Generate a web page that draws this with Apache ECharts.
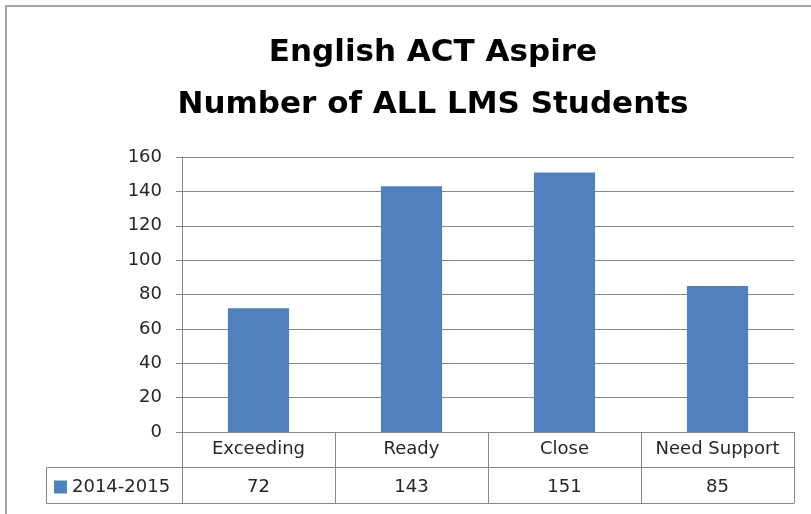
<!DOCTYPE html>
<html>
<head>
<meta charset="utf-8">
<script src="https://cdn.jsdelivr.net/npm/echarts@6/dist/echarts.min.js"></script>
<style>
  html, body { margin: 0; padding: 0; background: #fff; }
  #chart_con { width: 811px; height: 514px; }
</style>
</head>
<body>
<div id="chart_con"></div>
<script>
    // data
    var categories = ['Exceeding', 'Ready', 'Close', 'Need Support'];
    var seriesName = '2014-2015';
    var students = [72, 143, 151, 85];
    var yTicks = { min: 0, max: 160, interval: 20 };

    var lineColor = '#868686';
    var textColor = '#262626';
    var font = 'DejaVu Sans';

    var chart = echarts.init(document.getElementById('chart_con'));
    var option = {
        animation: false,
        title: {
            text: 'English ACT Aspire\nNumber of ALL LMS Students',
            left: 428,
            top: 22,
            textAlign: 'center',
            textStyle: {
                fontFamily: font,
                fontSize: 31,
                fontWeight: 'bold',
                color: '#000',
                lineHeight: 52
            }
        },
        legend: {
            data: [seriesName],
            left: 54,
            top: 478,
            padding: 0,
            itemWidth: 13,
            itemHeight: 13,
            icon: 'rect',
            textStyle: { fontFamily: font, fontSize: 18, color: textColor }
        },
        grid: { left: 182, right: 17, top: 157, bottom: 82 },
        xAxis: [
            {
                type: 'category',
                data: categories,
                axisLine: { lineStyle: { color: lineColor } },
                axisTick: { show: true, interval: 0, length: 71, lineStyle: { color: lineColor } },
                axisLabel: { interval: 0, margin: 8, fontFamily: font, fontSize: 18, color: textColor }
            },
            {
                type: 'category',
                data: categories,
                position: 'bottom',
                offset: 35,
                axisLine: { lineStyle: { color: lineColor } },
                axisTick: { show: false },
                axisLabel: {
                    interval: 0,
                    margin: 11,
                    fontFamily: font, fontSize: 18, color: textColor,
                    formatter: function (v, i) { return String(students[i]); }
                }
            },
            {
                type: 'category',
                data: categories,
                position: 'bottom',
                offset: 71,
                axisLine: { lineStyle: { color: lineColor } },
                axisTick: { show: false },
                axisLabel: { show: false }
            }
        ],
        yAxis: {
            type: 'value',
            min: yTicks.min,
            max: yTicks.max,
            interval: yTicks.interval,
            axisLine: { show: true, lineStyle: { color: lineColor } },
            axisTick: { show: true, length: 6, lineStyle: { color: lineColor } },
            splitLine: { lineStyle: { color: lineColor } },
            axisLabel: { margin: 20, fontFamily: font, fontSize: 18, color: textColor }
        },
        series: [{
            name: seriesName,
            type: 'bar',
            data: students,
            barWidth: '40%',
            itemStyle: { color: '#4F81BD' }
        }],
        graphic: [
            {
                type: 'rect',
                shape: { x: 6, y: 6, width: 900, height: 600 },
                style: { fill: 'none', stroke: '#a6a6a6', lineWidth: 2 },
                silent: true
            },
            {
                type: 'polyline',
                shape: { points: [[182, 467.5], [46.5, 467.5], [46.5, 503.5], [182, 503.5]] },
                style: { fill: 'none', stroke: lineColor, lineWidth: 1 },
                silent: true
            }
        ]
    };
    chart.setOption(option);
</script>
</body>
</html>
